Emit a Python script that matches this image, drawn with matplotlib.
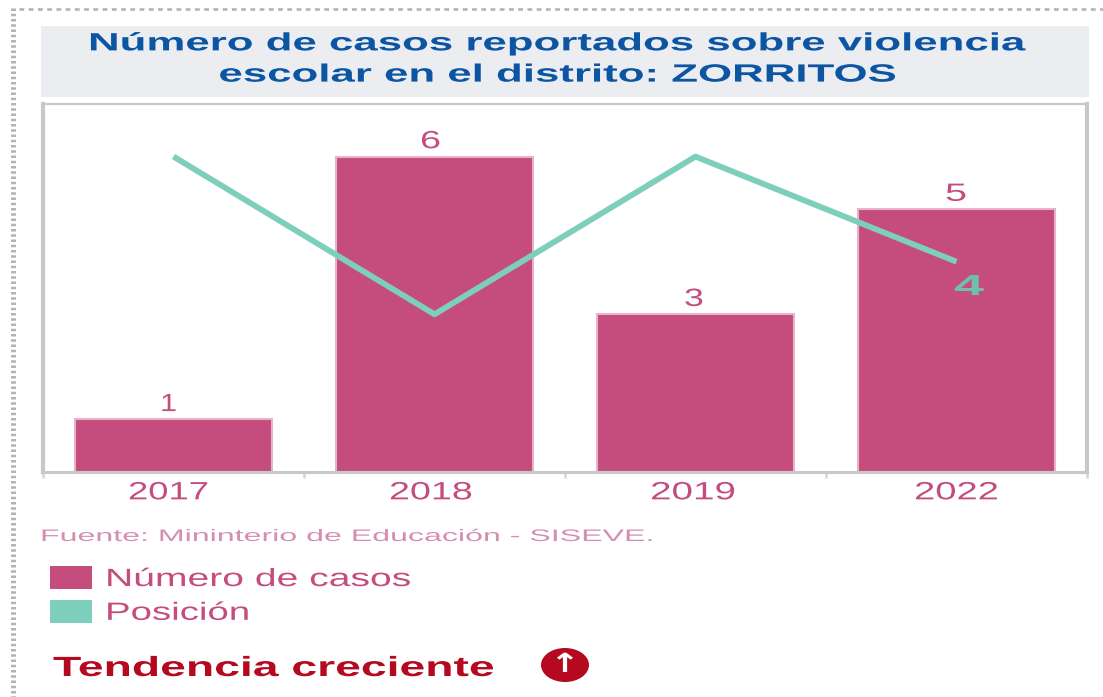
import matplotlib
matplotlib.use("Agg")
import matplotlib.pyplot as plt
from matplotlib.patches import Patch, Rectangle, Ellipse
from matplotlib.lines import Line2D
from matplotlib.patheffects import AbstractPathEffect
from matplotlib.transforms import Affine2D

years = ["2017", "2018", "2019", "2022"]
casos = [1, 6, 3, 5]
posicion = [6, 3, 6, 4]
titulo = "Número de casos reportados sobre violencia\nescolar en el distrito: ZORRITOS"
fuente = "Fuente: Mininterio de Educación - SISEVE."
tendencia = "Tendencia creciente"

PINK = "#C44D7E"
TEAL = "#7DCFBB"
W, H = 1103, 697
plt.rcParams["font.family"] = ["Liberation Sans", "DejaVu Sans"]

fig = plt.figure(figsize=(W / 100, H / 100), dpi=100, facecolor="white")

def fx(x): return x / W
def fy(y): return 1 - y / H


class StretchX(AbstractPathEffect):
    """The reference is a horizontally stretched picture: widen glyphs the same way."""
    def __init__(self, x0, target_x0, k):
        super().__init__()
        self.t = Affine2D().translate(-x0, 0).scale(k, 1).translate(target_x0, 0)

    def draw_path(self, renderer, gc, tpath, affine, rgbFace=None):
        renderer.draw_path(gc, tpath, affine + self.t, rgbFace)


def fit(text, left, right):
    ext = text.get_window_extent(fig.canvas.get_renderer())
    text.set_path_effects([StretchX(ext.x0, left, (right - left) / ext.width)])


# dotted page border
fig.add_artist(Line2D([fx(12.5), fx(12.5)], [fy(8), 0], color="#B4B4B4", lw=3.6, ls=(0, (0.5, 0.55))))
fig.add_artist(Line2D([fx(19), 1], [fy(8.5), fy(8.5)], color="#B4B4B4", lw=1.9, ls=(0, (1.8, 1.7))))

# title band
fig.add_artist(Rectangle((fx(41), fy(97)), (1089 - 41) / W, 71 / H, transform=fig.transFigure,
                         facecolor="#ECEDF1", edgecolor="none"))
t_title = fig.text(fx(558), fy(59), titulo, ha="center", va="center", fontsize=18, fontweight="bold",
                   color="#0B55A3", linespacing=1.38)

ax = fig.add_axes([fx(43), fy(472), (1087 - 43) / W, (472 - 104) / H])
x = range(len(years))
ax.bar(x, casos, width=0.755, color=PINK, edgecolor="#E6B3C9", linewidth=1.5, zorder=2)
ax.plot(x, posicion, color=TEAL, lw=4.2, zorder=3, solid_capstyle="butt")
ax.set_xlim(-0.5, 3.5)
ax.set_ylim(0, 7)
ax.set_yticks([])
ax.set_xticks([-0.5, 0.5, 1.5, 2.5, 3.5])
ax.set_xticklabels([])
ax.set_xticks(list(x), minor=True)
ax.set_xticklabels(years, minor=True, fontsize=18, color=PINK)
ax.tick_params(axis="x", which="major", length=4, width=2, color="#D8D8D8")
ax.tick_params(axis="x", which="minor", length=0, pad=6)
for name, s in ax.spines.items():
    s.set_color("#C8C8C8")
    s.set_linewidth({"left": 3, "right": 3, "top": 1.6, "bottom": 2.2}[name])

label_spans = [(160, 177), (420, 441), (684, 704), (945, 967)]
t_vals = [ax.annotate(str(v), (i, v), xytext=(0, 6), textcoords="offset points", ha="center",
                      va="baseline", fontsize=18, color=PINK) for i, v in enumerate(casos)]
t_four = ax.annotate(str(posicion[-1]), (3, posicion[-1]), xytext=(0, -24), textcoords="offset points",
                     ha="center", va="baseline", fontsize=21, fontweight="bold", color="#6FBFAB", zorder=4)

t_src = fig.text(fx(40), fy(541), fuente, ha="left", va="baseline", fontsize=12, color="#D58DB0")

handles = [Patch(facecolor=PINK, label="Número de casos"), Patch(facecolor=TEAL, label="Posición")]
leg = fig.legend(handles=handles, loc="upper left", bbox_to_anchor=(fx(50), fy(566)), frameon=False,
                 fontsize=18, labelcolor=PINK, borderpad=0, borderaxespad=0, handlelength=42 / 25,
                 handleheight=26 / 25, handletextpad=0.5, labelspacing=0.35)

t_trend = fig.text(fx(53), fy(676), tendencia, ha="left", va="baseline", fontsize=20, fontweight="bold",
                   color="#B5091F")
fig.add_artist(Ellipse((fx(565), fy(665)), 48 / W, 34 / H, transform=fig.transFigure,
                       facecolor="#B5091F", edgecolor="none"))
t_arrow = fig.text(fx(565), fy(665), "↑", ha="center", va="center", fontsize=19, fontweight="bold",
                   color="white", family="DejaVu Sans")

fig.canvas.draw()
fit(t_title, 88, 1027)
for t, (a, b) in zip(ax.get_xticklabels(minor=True), [(128, 209), (389, 473), (650, 736), (914, 999)]):
    fit(t, a, b)
for t, (a, b) in zip(t_vals, label_spans):
    fit(t, a, b)
fit(t_four, 954, 984)
fit(t_src, 40, 655)
fit(leg.get_texts()[0], 105, 411)
fit(leg.get_texts()[1], 105, 250)
fit(t_trend, 53, 495)
fit(t_arrow, 550, 580)

fig.savefig("out.png", dpi=100)
